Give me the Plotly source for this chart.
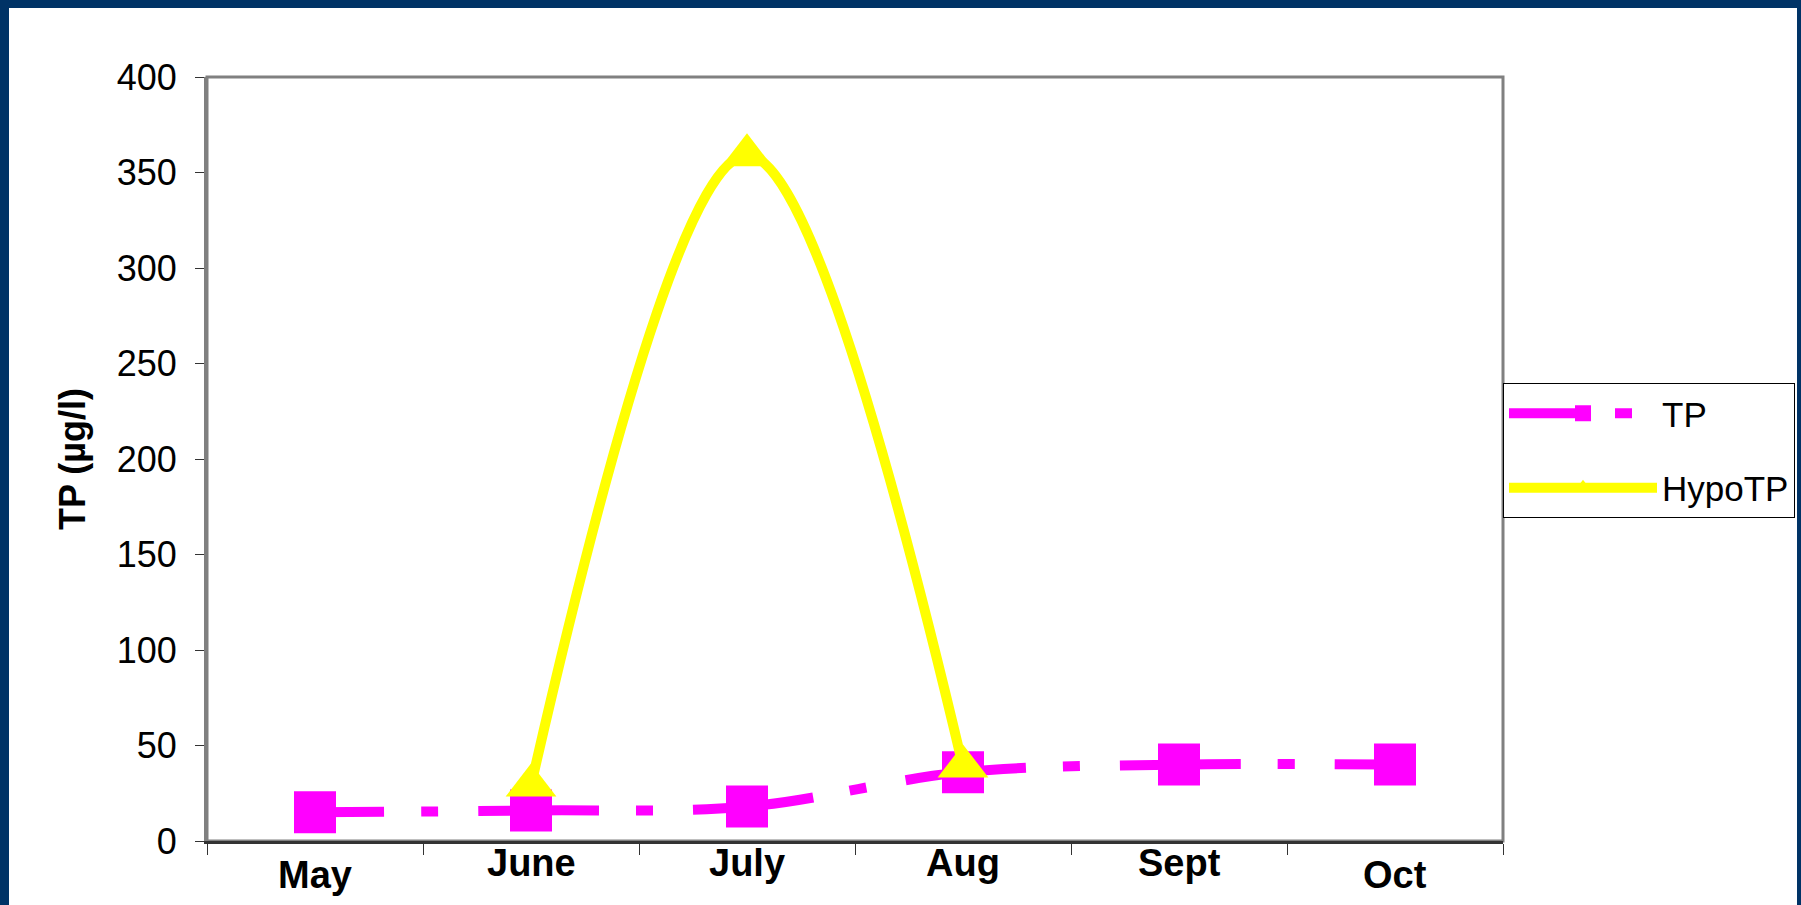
import plotly.graph_objects as go

# ---- data ----
months = ["May", "June", "July", "Aug", "Sept", "Oct"]
tp = [15, 16, 18, 36, 40, 40]
hypo_tp = [None, 29, 359, 39, None, None]
y_ticks = [0, 50, 100, 150, 200, 250, 300, 350, 400]

# ---- style / layout ----
NAVY = "#003366"
FONT = "Liberation Sans, Arial, sans-serif"
W, H = 1801, 905
PL, PR, PT, PB = 207, 1503, 77, 841  # plot area edges in px
label_shift = [-11, 1, 1, 1, 1, -11]

def px_x(p):
    return (p - PL) / (PR - PL)

def px_y(p):
    return (PB - p) / (PB - PT)

fig = go.Figure()
fig.add_trace(go.Scatter(
    x=months, y=tp, name="TP", mode="lines+markers",
    line=dict(color="#FF00FF", width=10, dash="69px,37px,17px,40px,52px,0px", shape="spline"),
    marker=dict(symbol="square", size=42, color="#FF00FF"),
    legendgroup="a",
))
fig.add_trace(go.Scatter(
    x=months, y=hypo_tp, name="HypoTP", mode="lines+markers",
    line=dict(color="#FFFF00", width=10, shape="spline"),
    marker=dict(symbol="triangle-up", size=44, color="#FFFF00"),
    legendgroup="b",
))

shapes = [
    dict(type="rect", xref="paper", yref="paper", layer="below",
         x0=px_x(9), x1=px_x(1797), y0=px_y(H + 20), y1=px_y(8),
         fillcolor="white", line=dict(width=0)),
    dict(type="rect", xref="paper", yref="paper", layer="below",
         x0=0, x1=1, y0=0, y1=1, line=dict(color="#808080", width=3)),
]

annotations = []
for m, s in zip(months, label_shift):
    annotations.append(dict(
        x=m, xref="x", y=0, yref="paper", yanchor="top", yshift=s,
        text=m, showarrow=False,
        font=dict(family=FONT, size=38, color="black", weight="bold"),
    ))

fig.update_layout(
    width=W, height=H,
    margin=dict(l=PL, r=W - PR, t=PT, b=H - PB, autoexpand=False),
    paper_bgcolor=NAVY, plot_bgcolor="white",
    font=dict(family=FONT, color="black"),
    showlegend=True,
    legend=dict(
        x=1.0, xanchor="left", y=px_y(383), yanchor="top",
        bgcolor="white", bordercolor="black", borderwidth=1,
        font=dict(family=FONT, size=35, color="black"),
        itemwidth=148, tracegroupgap=26, traceorder="grouped",
    ),
    xaxis=dict(
        type="category", categoryarray=months, range=[-0.5, 5.5],
        showticklabels=False, ticks="outside", tickson="boundaries",
        ticklen=11, tickcolor="#333333", tickwidth=1,
        showline=True, linecolor="#333333", linewidth=3,
        showgrid=False, zeroline=False, fixedrange=True,
    ),
    yaxis=dict(
        range=[0, 400], tickvals=y_ticks, ticks="outside", ticklen=9,
        tickcolor="#333333", tickwidth=1, ticklabelstandoff=11,
        tickfont=dict(family=FONT, size=36, color="black"),
        showline=True, linecolor="#808080", linewidth=3,
        showgrid=False, zeroline=False,
        title=dict(text="TP (µg/l)", font=dict(family=FONT, size=36, color="black", weight="bold"), standoff=21),
    ),
    xaxis2=dict(
        overlaying="x", anchor="y", range=[-0.5, 5.5],
        tickvals=[-0.5, 0.5, 1.5, 2.5, 3.5, 4.5, 5.5],
        ticks="inside", ticklen=11, tickcolor="#333333", tickwidth=1,
        showticklabels=False, showline=False, showgrid=False, zeroline=False,
    ),
    yaxis2=dict(
        overlaying="y", anchor="x", side="left", range=[0, 400],
        tickvals=y_ticks, ticks="inside", ticklen=11,
        tickcolor="#333333", tickwidth=1,
        showticklabels=False, showline=False, showgrid=False, zeroline=False,
    ),
    shapes=shapes,
    annotations=annotations,
)

fig.write_html(
    "out.html",
    config={"displayModeBar": False},
    post_script="document.body.style.margin='0px';document.body.style.background='%s';" % NAVY,
)
